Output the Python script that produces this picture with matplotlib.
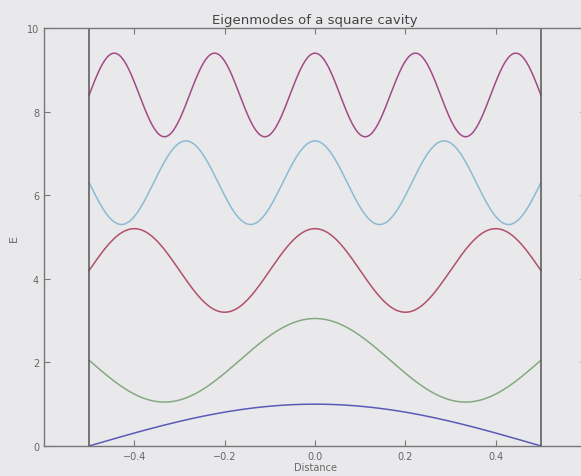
import numpy as np
import matplotlib.pyplot as plt

# mode parameters
mode_numbers = [1, 3, 5, 7, 9]
mode_offsets = [0.0, 2.05, 4.2, 6.3, 8.4]
mode_amplitudes = [1.0, 1.0, 1.0, 1.0, 1.0]
mode_colors = ['#5a5ab8', '#85a882', '#b25068', '#8cbad2', '#a24a84']
wall_positions = [-0.5, 0.5]
x_ticks = [-0.4, -0.2, 0.0, 0.2, 0.4]
y_ticks = [0, 2, 4, 6, 8, 10]

bg = '#e9e9ec'
fig = plt.figure(figsize=(5.81, 4.77), dpi=100, facecolor=bg)
ax = fig.add_axes([0.0757, 0.063, 0.933, 0.876], facecolor=bg)

x = np.linspace(-0.5, 0.5, 400)
for n, off, amp, c in zip(mode_numbers, mode_offsets, mode_amplitudes, mode_colors):
    ax.plot(x, off + amp * np.cos(n * np.pi * x), color=c, lw=1.1)

for w in wall_positions:
    ax.axvline(w, color='#555555', lw=1.1)

ax.set_xlim(-0.6, 0.6)
ax.set_ylim(0, 10)
ax.set_xticks(x_ticks)
ax.set_yticks(y_ticks)
ax.set_xticklabels(['\u22120.4', '\u22120.2', '0.0', '0.2', '0.4'])
ax.tick_params(direction='in', top=True, right=True, length=4,
               labelsize=7, colors='#777777', labelcolor='#666666')
for s in ax.spines.values():
    s.set_color('#777777')
    s.set_linewidth(1.0)

ax.set_title('Eigenmodes of a square cavity', fontsize=9.5, color='#444444', pad=4)
ax.set_xlabel('Distance', fontsize=7, color='#666666', labelpad=1)
ax.set_ylabel('E', fontsize=8, color='#666666', labelpad=6)

fig.savefig('out.png', dpi=100, facecolor=bg)
